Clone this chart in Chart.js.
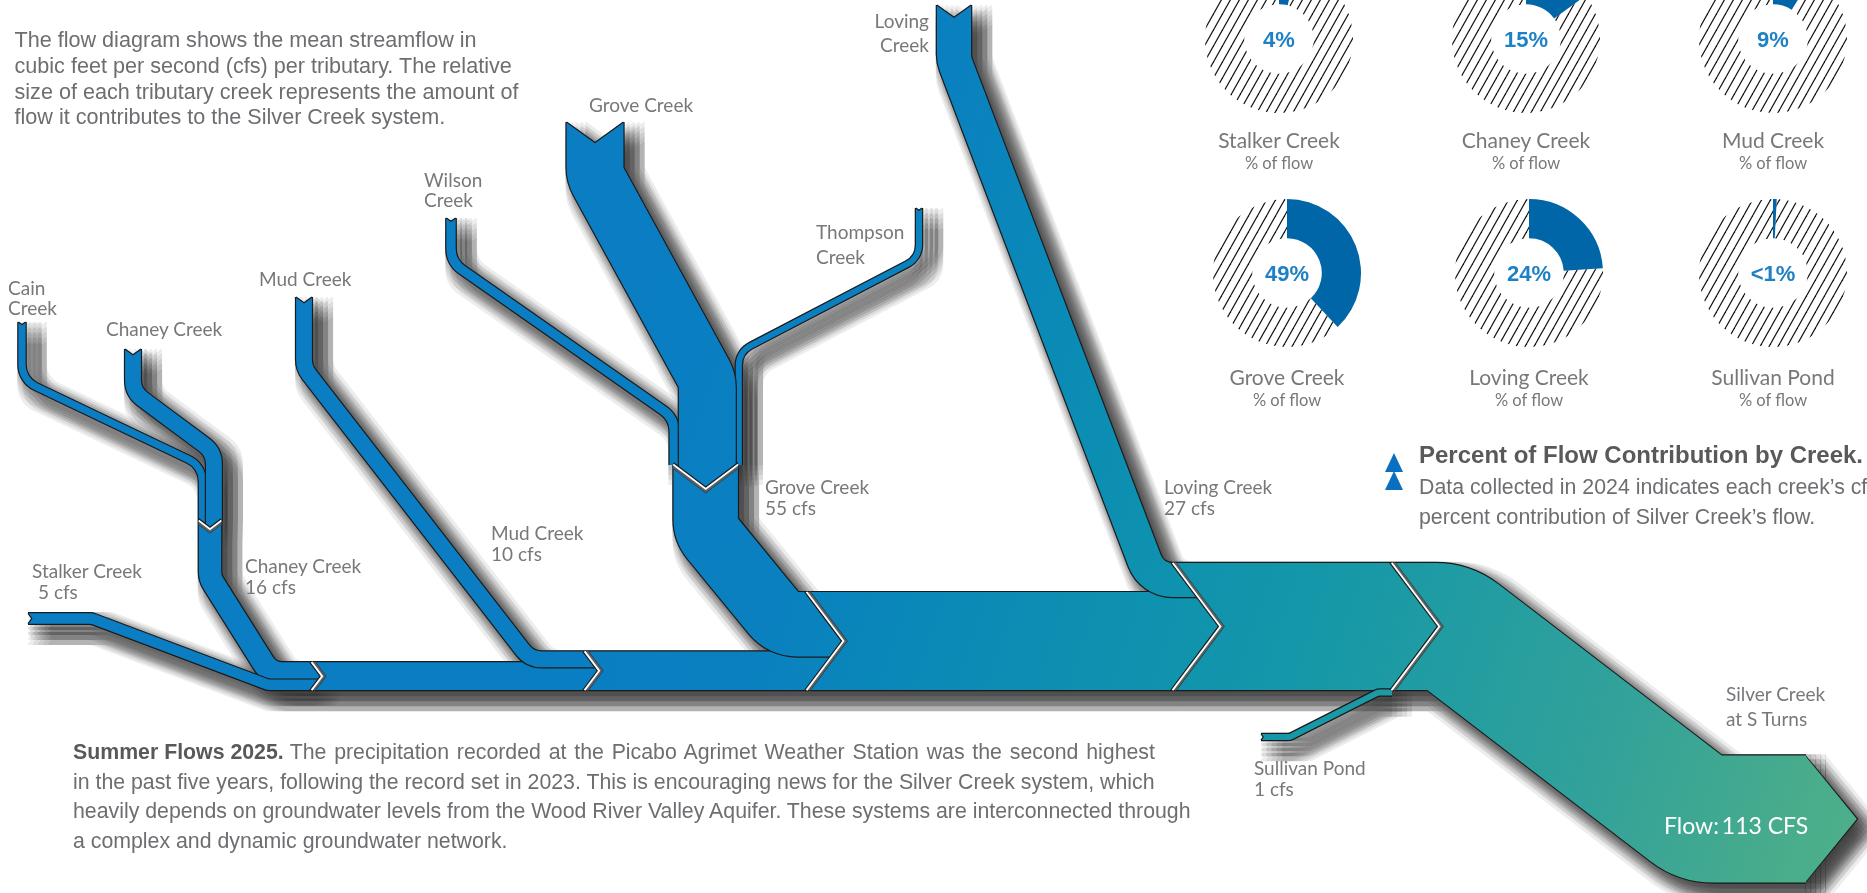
<!DOCTYPE html>
<html><head><meta charset="utf-8">
<script src="https://cdn.jsdelivr.net/npm/chart.js@4.4.1/dist/chart.umd.min.js"></script>
<style>
html,body{margin:0;padding:0;background:#fff;}
body{width:1867px;height:893px;overflow:hidden;position:relative;}
canvas{position:absolute;}
.lbl{position:absolute;white-space:nowrap;font-family:Lato,"Noto Sans",sans-serif;color:#77787b;font-size:19px;line-height:22px;}
.para{position:absolute;white-space:nowrap;font-family:"Liberation Sans",Arial,Helvetica,sans-serif;color:#6d6e71;}
.pct{position:absolute;white-space:nowrap;font-family:"Liberation Sans",Arial,sans-serif;font-weight:bold;color:#1e80c5;font-size:22px;line-height:26px;transform:translate(-50%,-50%);}
.tri{position:absolute;width:0;height:0;border-left:9px solid transparent;border-right:9px solid transparent;border-bottom:19px solid #0a6fc0;}
</style></head><body>
<canvas id="flow" width="1867" height="893" style="left:0;top:0"></canvas>
<div id="overlay"></div>
<script>
// ---------------- data ----------------
const creeks = ['Stalker Creek', 'Chaney Creek', 'Mud Creek', 'Grove Creek', 'Loving Creek', 'Sullivan Pond'];
const flowCfs = [5, 16, 10, 55, 27, 1];
const totalFlowCfs = 113;
const pctLabels = ['4%', '15%', '9%', '49%', '24%', '<1%'];
const pctArc = [4, 15, 9, 38, 24, 0.8];          // arc extent as drawn in the reference rings
const headwaterNames = [['Cain', 'Creek'], ['Chaney Creek'], ['Mud Creek'], ['Wilson', 'Creek'], ['Grove Creek'], ['Thompson', 'Creek'], ['Loving', 'Creek']];
const unlabeledCreeks = ['Cain Creek', 'Chaney Creek (upper)', 'Wilson Creek', 'Thompson Creek', 'Grove Creek (upper)'];
const unlabeledCfsEst = [2, 10, 4, 1, 48];       // widths, in cfs
const outletLabel = ['Silver Creek', 'at S Turns'];

// ---------------- layout ----------------
const W = 1867, H = 893;
const W_BASE = 5, W_PER_CFS = 1.08;
const TRUNK_BOTTOM = 690;
const JOINT_X = [312, 585, 807, 1173, 1392];
const BLUE = '#0a7dc3';
const donutPos = [[1279, 39], [1526, 39], [1773, 39], [1287, 273], [1529, 273], [1773, 273]];
const donutNameY = [140, 140, 140, 377, 377, 377];
const headLabelPos = [[8, 288, 20, 'l'], [106, 329, 0, 'l'], [259, 279, 0, 'l'], [424, 180, 20, 'l'], [589, 105, 0, 'l'], [816, 232, 25, 'l'], [929, 21, 24, 'r']];
const flowLabelPos = [[32, 571, 38], [245, 566, 245], [491, 533, 491], [765, 487, 765], [1164, 487, 1164], [1254, 768, 1254]];

// ---------------- geometry helpers ----------------
const unit = v => { const l = Math.hypot(v[0], v[1]) || 1; return [v[0] / l, v[1] / l]; };
function tracePath(ctx, pts, r) {
  ctx.beginPath();
  ctx.moveTo(pts[0][0], pts[0][1]);
  for (let i = 1; i < pts.length - 1; i++) {
    if (r > 0) ctx.arcTo(pts[i][0], pts[i][1], pts[i + 1][0], pts[i + 1][1], r);
    else ctx.lineTo(pts[i][0], pts[i][1]);
  }
  ctx.lineTo(pts[pts.length - 1][0], pts[pts.length - 1][1]);
}
function clipV(ctx, V, side) {
  const BIG = 4000;
  const e = unit([V.a[0] - V.b[0], V.a[1] - V.b[1]]);
  const A1 = [V.a[0] + e[0] * BIG, V.a[1] + e[1] * BIG];
  const B1 = [V.b[0] - e[0] * BIG, V.b[1] - e[1] * BIG];
  const B2 = [B1[0] + side * V.u[0] * BIG, B1[1] + side * V.u[1] * BIG];
  const A2 = [A1[0] + side * V.u[0] * BIG, A1[1] + side * V.u[1] * BIG];
  ctx.beginPath();
  ctx.moveTo(A1[0], A1[1]); ctx.lineTo(V.a[0], V.a[1]); ctx.lineTo(V.tip[0], V.tip[1]);
  ctx.lineTo(V.b[0], V.b[1]); ctx.lineTo(B1[0], B1[1]); ctx.lineTo(B2[0], B2[1]); ctx.lineTo(A2[0], A2[1]);
  ctx.closePath();
  ctx.clip();
}

function buildPieces(px, len) {
  const wv = c => len(W_BASE + W_PER_CFS * c);
  const [cSt, cCh, cMu, cGr, cLo, cSu] = flowCfs;
  const [cCa, cChU, cWi, cTh, cGrU] = unlabeledCfsEst;
  const cum = [cSt + cCh];
  cum.push(cum[0] + cMu); cum.push(cum[1] + cGr); cum.push(cum[2] + cLo); cum.push(totalFlowCfs);
  const B = px([0, TRUNK_BOTTOM])[1];
  const Ht = cum.map(wv), top = Ht.map(h => B - h), mid = Ht.map(h => B - h / 2);
  const JX = JOINT_X.map(x => px([x, 0])[0]);
  const J = JX.map((x, i) => ({ a: [x, top[i]], tip: [x + 0.375 * Ht[i], mid[i]], b: [x, B], u: [1, 0] }));
  const wCh = wv(cCh), [CX, JCy] = px([210, 521]);
  const JC = { a: [CX - wCh / 2, JCy], tip: [CX, JCy + 0.375 * wCh], b: [CX + wCh / 2, JCy], u: [0, 1] };
  const wGr = wv(cGr), [GX, JGy] = px([705.7, 465]);
  const JG = { a: [GX - wGr / 2, JGy], tip: [GX, JGy + 0.375 * wGr], b: [GX + wGr / 2, JGy], u: [0, 1] };
  const wCa = wv(cCa), wChU = wv(cChU), wWi = wv(cWi), wTh = wv(cTh), wGrU = wv(cGrU);
  const wSt = wv(cSt), wMu = wv(cMu), wLo = wv(cLo), wSu = wv(cSu);
  const cainX = CX - wCh / 2 + wCa / 2;
  const chUX = CX - wCh / 2 + wCa + wChU / 2;
  const gL = GX - (wWi + wGrU + wTh) / 2;
  const wilX = gL + wWi / 2, grUX = gL + wWi + wGrU / 2, thX = gL + wWi + wGrU + wTh / 2;
  const q = p => px(p);
  const P = [];
  P.push({ pts: [q([22, 322]), q([22, 380]), [cainX, q([0, 466])[1]], [cainX, JCy + 20]], w: wCa, r: 24, src: true, ev: JC });
  P.push({ pts: [q([133, 349]), q([133, 392]), [chUX, q([0, 452])[1]], [chUX, JCy + 20]], w: wChU, r: 24, src: true, ev: JC });
  P.push({ pts: [[CX, JCy - 12], [CX, q([0, 578])[1]], [q([270, 0])[0], top[0] + wCh / 2], [JX[0] + 30, top[0] + wCh / 2]], w: wCh, r: 22, sv: JC, ev: J[0] });
  P.push({ pts: [q([28, 618.5]), q([92, 618.5]), [q([268, 0])[0], B - wSt / 2], [JX[0] + 30, B - wSt / 2]], w: wSt, r: 14, src: true, ev: J[0] });
  P.push({ pts: [[JX[0] - 6, mid[0]], [JX[1] + 30, mid[0]]], w: Ht[0], r: 0, sv: J[0], ev: J[1] });
  P.push({ pts: [q([304, 297]), q([304, 368]), [q([530, 0])[0], top[1] + wMu / 2], [JX[1] + 30, top[1] + wMu / 2]], w: wMu, r: 24, src: true, ev: J[1] });
  P.push({ pts: [[JX[1] - 6, mid[1]], [JX[2] + 45, mid[1]]], w: Ht[1], r: 0, sv: J[1], ev: J[2] });
  P.push({ pts: [q([451, 218]), q([451, 262]), [wilX, q([0, 418])[1]], [wilX, JGy + 35]], w: wWi, r: 26, src: true, ev: JG });
  P.push({ pts: [q([919, 208]), q([919, 258]), [thX, q([0, 352])[1]], [thX, JGy + 35]], w: wTh, r: 22, src: true, ev: JG });
  P.push({ pts: [q([595, 122]), q([595, 175]), [grUX, q([0, 380])[1]], [grUX, JGy + 35]], w: wGrU, r: 30, src: true, ev: JG });
  P.push({ pts: [[GX, JGy - 12], [GX, q([0, 530])[1]], [q([783, 0])[0], top[2] + wGr / 2], [JX[2] + 50, top[2] + wGr / 2]], w: wGr, r: 30, sv: JG, ev: J[2] });
  P.push({ pts: [[JX[2] - 6, mid[2]], [JX[3] + 55, mid[2]]], w: Ht[2], r: 0, sv: J[2], ev: J[3] });
  P.push({ pts: [q([954, 5]), q([954, 60]), [q([1152, 0])[0], top[3] + wLo / 2], [JX[3] + 55, top[3] + wLo / 2]], w: wLo, r: 30, src: true, ev: J[3] });
  P.push({ pts: [[JX[3] - 6, mid[3]], [JX[4] + 55, mid[3]]], w: Ht[3], r: 0, sv: J[3], ev: J[4] });
  P.push({ pts: [q([1261, 737]), q([1290, 737]), [q([1378, 0])[0], B + wSu / 2 - 0.5], [JX[4] + 20, B + wSu / 2 - 0.5]], w: wSu, r: 8, src: true, ev: J[4] });
  const [endX, endY] = px([1806, 819]);
  P.push({ pts: [[JX[4] - 6, mid[4]], [q([1449, 0])[0], mid[4]], q([1700, 819]), [endX, endY]], w: Ht[4], r: 40, sv: J[4], tip: 0.8 });
  P.forEach(p => {
    if (p.src) {
      const u = unit([p.pts[1][0] - p.pts[0][0], p.pts[1][1] - p.pts[0][1]]);
      const n = [-u[1], u[0]], s = p.pts[0], h = p.w / 2;
      p.sv = { a: [s[0] + n[0] * h, s[1] + n[1] * h], tip: [s[0] + u[0] * 0.36 * p.w, s[1] + u[1] * 0.36 * p.w], b: [s[0] - n[0] * h, s[1] - n[1] * h], u };
    }
  });
  return { P, joints: [JC, JG].concat(J) };
}

function tipPoly(p, grow) {
  const e = p.pts[p.pts.length - 1], h = p.w / 2 + grow;
  return [[e[0] - 1, e[1] - h], [e[0] + p.tip * p.w / 2 + grow * 1.3, e[1]], [e[0] - 1, e[1] + h]];
}
function drawPiece(ctx, p, style, extra) {
  ctx.save();
  if (p.sv) clipV(ctx, p.sv, 1);
  if (p.ev) clipV(ctx, p.ev, -1);
  ctx.lineCap = 'butt'; ctx.lineJoin = 'round';
  ctx.strokeStyle = style; ctx.lineWidth = p.w + extra;
  tracePath(ctx, p.pts, p.r);
  ctx.stroke();
  if (p.tip) {
    const t = tipPoly(p, extra / 2);
    ctx.fillStyle = style;
    ctx.beginPath(); ctx.moveTo(t[0][0], t[0][1]); ctx.lineTo(t[1][0], t[1][1]); ctx.lineTo(t[2][0], t[2][1]); ctx.closePath(); ctx.fill();
  }
  ctx.restore();
}
function strokeV(ctx, V, off, width, color) {
  ctx.save();
  ctx.strokeStyle = color; ctx.lineWidth = width; ctx.lineJoin = 'miter'; ctx.lineCap = 'butt';
  const d = [V.u[0] * off, V.u[1] * off];
  ctx.beginPath();
  ctx.moveTo(V.a[0] + d[0], V.a[1] + d[1]); ctx.lineTo(V.tip[0] + d[0], V.tip[1] + d[1]); ctx.lineTo(V.b[0] + d[0], V.b[1] + d[1]);
  ctx.stroke();
  ctx.restore();
}

const flowPlugin = {
  id: 'silverFlow',
  afterDraw(chart) {
    const ctx = chart.ctx, xs = chart.scales.x, ys = chart.scales.y;
    const px = p => [xs.getPixelForValue(p[0]), ys.getPixelForValue(p[1])];
    const len = v => Math.abs(ys.getPixelForValue(v) - ys.getPixelForValue(0));
    const { P, joints } = buildPieces(px, len);
    // drop shadow: every piece stamped at many small offsets with low alpha (soft blur)
    const SH_X = 10, SH_Y = 10, SH_R = 10, STEP = 5;
    const offs = [];
    for (let dx = -SH_R; dx <= SH_R; dx += STEP) for (let dy = -SH_R; dy <= SH_R; dy += STEP) offs.push([dx, dy]);
    const aStamp = 1 - Math.pow(1 - 0.9, 1 / offs.length);
    offs.forEach(([dx, dy]) => {
      ctx.save();
      ctx.globalAlpha = aStamp;
      ctx.translate(SH_X + dx, SH_Y + dy);
      P.forEach(p => drawPiece(ctx, p, '#333333', 2.4));
      ctx.restore();
    });
    // fill gradient
    const g0 = px([560, 450]), g1 = px([1860, 880]);
    const grad = ctx.createLinearGradient(g0[0], g0[1], g1[0], g1[1]);
    grad.addColorStop(0, BLUE); grad.addColorStop(0.18, '#0a80c0'); grad.addColorStop(0.32, '#0a8bb6');
    grad.addColorStop(0.55, '#1397a9'); grad.addColorStop(0.8, '#33a299'); grad.addColorStop(0.95, '#4aad8b'); grad.addColorStop(1, '#4eb08a');
    P.forEach(p => { drawPiece(ctx, p, '#1b1b1b', 2.4); drawPiece(ctx, p, grad, 0); });
    // source notch edges
    P.forEach(p => { if (p.src) strokeV(ctx, p.sv, 0, 1.2, '#1b1b1b'); });
    // junction chevrons
    joints.forEach(V => {
      strokeV(ctx, V, 3.4, 1.1, '#2a2a2a');
      strokeV(ctx, V, 1.8, 2.8, 'rgba(95,95,95,0.9)');
      strokeV(ctx, V, -0.6, 2.4, '#ffffff');
      strokeV(ctx, V, -2.2, 1.2, '#1b1b1b');
    });
  }
};

new Chart(document.getElementById('flow'), {
  type: 'scatter',
  data: { datasets: [{ data: [] }] },
  options: {
    responsive: false, animation: false, events: [],
    layout: { padding: 0 },
    plugins: { legend: { display: false }, tooltip: { enabled: false } },
    scales: {
      x: { type: 'linear', min: 0, max: W, display: false },
      y: { type: 'linear', min: 0, max: H, reverse: true, display: false }
    }
  },
  plugins: [flowPlugin]
});

// ---------------- donuts ----------------
function hatchPattern() {
  const c = document.createElement('canvas'); c.width = 9; c.height = 16;
  const x = c.getContext('2d');
  x.strokeStyle = '#111'; x.lineWidth = 1.25;
  [-9, 0, 9].forEach(dx => { x.beginPath(); x.moveTo(dx, 16); x.lineTo(dx + 9, 0); x.stroke(); });
  return x.createPattern(c, 'repeat');
}
const hatch = hatchPattern();
const overlay = document.getElementById('overlay');
function addDiv(cls, html, style) { const d = document.createElement('div'); d.className = cls; d.innerHTML = html; Object.assign(d.style, style); overlay.appendChild(d); return d; }

creeks.forEach((name, i) => {
  const [cx, cy] = donutPos[i], R = 74;
  const cv = document.createElement('canvas');
  cv.width = 2 * R; cv.height = 2 * R;
  cv.style.left = (cx - R) + 'px'; cv.style.top = (cy - R) + 'px';
  document.body.insertBefore(cv, overlay);
  new Chart(cv, {
    type: 'doughnut',
    data: { labels: [name, 'other'], datasets: [{ data: [pctArc[i], 100 - pctArc[i]], backgroundColor: ['#0066a8', hatch], borderWidth: 0, hoverOffset: 0 }] },
    options: { responsive: false, animation: false, events: [], cutout: '47%', layout: { padding: 0 }, plugins: { legend: { display: false }, tooltip: { enabled: false } } }
  });
  addDiv('pct', pctLabels[i], { left: cx + 'px', top: (cy + 1) + 'px' });
  addDiv('lbl', name, { left: cx + 'px', top: (donutNameY[i] - 12) + 'px', fontSize: '21px', lineHeight: '24px', transform: 'translateX(-50%)' });
  addDiv('lbl', '% of flow', { left: cx + 'px', top: (donutNameY[i] + 13) + 'px', fontSize: '16.5px', lineHeight: '20px', transform: 'translateX(-50%)' });
});

// ---------------- flow labels ----------------
headwaterNames.forEach((lines, i) => {
  const [x, y, gap, al] = headLabelPos[i];
  lines.forEach((t, k) => {
    const st = { left: x + 'px', top: (y + k * gap - 11) + 'px' };
    if (al === 'r') st.transform = 'translateX(-100%)';
    addDiv('lbl', t, st);
  });
});
creeks.forEach((name, i) => {
  const [x, y, x2] = flowLabelPos[i];
  addDiv('lbl', name, { left: x + 'px', top: (y - 11) + 'px' });
  addDiv('lbl', flowCfs[i] + ' cfs', { left: x2 + 'px', top: (y + 21 - 11) + 'px' });
});
addDiv('lbl', outletLabel[0], { left: '1726px', top: (694 - 11) + 'px' });
addDiv('lbl', outletLabel[1], { left: '1726px', top: (719 - 11) + 'px' });
addDiv('lbl', 'Flow:\u2009' + totalFlowCfs + ' CFS', { left: '1664px', top: (825 - 14) + 'px', color: '#ffffff', fontSize: '23px', lineHeight: '28px' });

// ---------------- paragraphs ----------------
addDiv('para', 'The flow diagram shows the mean streamflow in<br>cubic feet per second (cfs) per tributary. The relative<br>size of each tributary creek represents the amount of<br>flow it contributes to the Silver Creek system.',
  { left: '14.5px', top: '27px', fontSize: '21.6px', lineHeight: '25.8px' });
addDiv('para', '<b style="color:#58595b">Summer Flows 2025.</b> <span style="word-spacing:1.9px">The precipitation recorded at the Picabo Agrimet Weather Station was the second highest</span><br>in the past five years, following the record set in 2023. This is encouraging news for the Silver Creek system, which<br>heavily depends on groundwater levels from the Wood River Valley Aquifer. These systems are interconnected through<br>a complex and dynamic groundwater network.',
  { left: '73px', top: '738px', fontSize: '21.3px', lineHeight: '29.6px' });
addDiv('para', '<b>Percent of Flow Contribution by Creek.</b>', { left: '1419px', top: '440px', fontSize: '24px', lineHeight: '30px', color: '#58595b' });
addDiv('para', 'Data collected in 2024 indicates each creek\u2019s cfs and<br>percent contribution of Silver Creek\u2019s flow.', { left: '1419px', top: '472px', fontSize: '21.3px', lineHeight: '30px' });
addDiv('tri', '', { left: '1385px', top: '453px' });
addDiv('tri', '', { left: '1385px', top: '471px' });
</script>
</body></html>
